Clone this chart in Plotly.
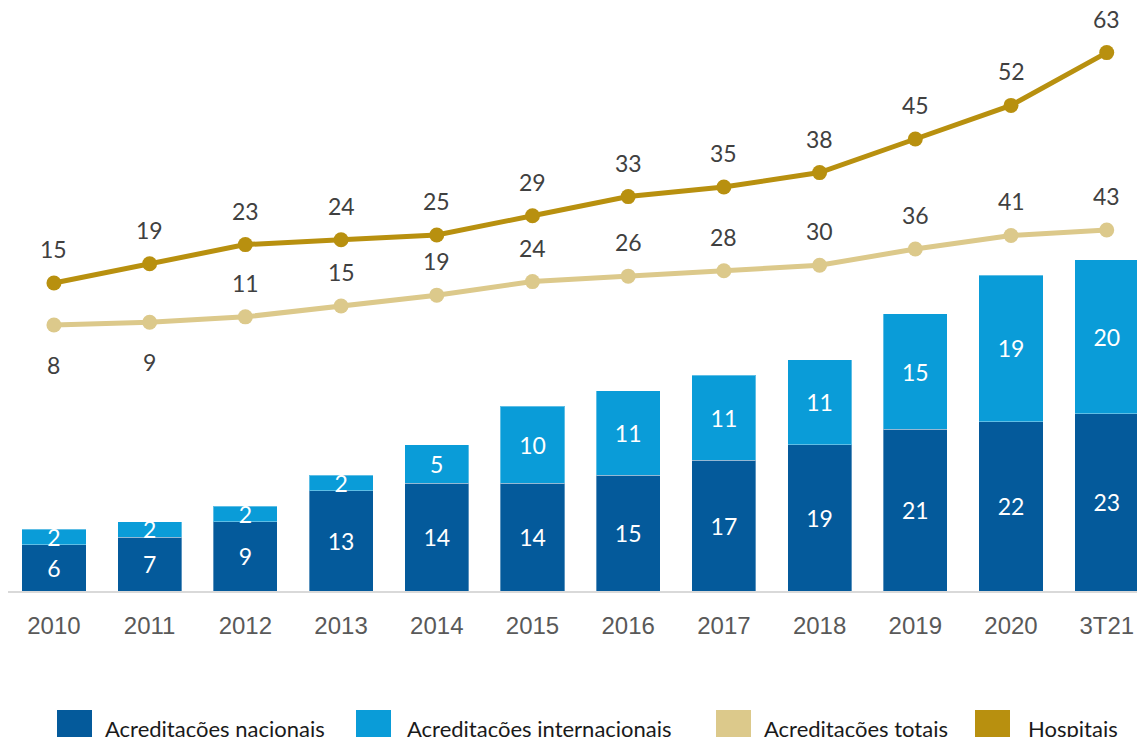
import plotly.graph_objects as go

# dados
categorias = ["2010", "2011", "2012", "2013", "2014", "2015", "2016", "2017", "2018", "2019", "2020", "3T21"]
nacionais = [6, 7, 9, 13, 14, 14, 15, 17, 19, 21, 22, 23]
internacionais = [2, 2, 2, 2, 5, 10, 11, 11, 11, 15, 19, 20]
totais = [8, 9, 11, 15, 19, 24, 26, 28, 30, 36, 41, 43]
hospitais = [15, 19, 23, 24, 25, 29, 33, 35, 38, 45, 52, 63]

series = ["Acreditações nacionais", "Acreditações internacionais", "Acreditações totais", "Hospitais"]
cores = ["#045A9B", "#0A9CD8", "#DCC98B", "#B8900F"]

# the page body has an 8px margin, so the figure is drawn 8px smaller
OFF = 8
W, H = 1145 - OFF, 737 - OFF
MB = 146
PW, PH = W, H - MB

FONT_NUM = "Lato, 'Open Sans', sans-serif"
FONT_TICK = "'Liberation Sans Narrow', 'Arial Narrow', 'Liberation Sans', Arial, sans-serif"


def px_x(x):
    # screen pixel -> paper x
    return (x - OFF) / PW


def px_y(y):
    # screen pixel -> paper y
    return (PH - (y - OFF)) / PH


fig = go.Figure()

for vals, nome, cor in [(nacionais, series[0], cores[0]), (internacionais, series[1], cores[1])]:
    fig.add_trace(go.Bar(
        x=categorias, y=vals, name=nome, marker_color=cor,
        marker_line=dict(color="rgba(255,255,255,0.35)", width=1),
        text=[str(v) for v in vals], textposition="inside", insidetextanchor="middle",
        constraintext="none", textangle=0,
        textfont=dict(family=FONT_NUM, size=23, color="white"),
    ))

fig.add_trace(go.Scatter(
    x=categorias, y=totais, name=series[2], yaxis="y3", mode="lines+markers",
    line=dict(color=cores[2], width=5), marker=dict(size=15, color=cores[2]),
))
fig.add_trace(go.Scatter(
    x=categorias, y=hospitais, name=series[3], yaxis="y2", mode="lines+markers",
    line=dict(color=cores[3], width=5), marker=dict(size=15, color=cores[3]),
))

annotations = []
for i, v in enumerate(hospitais):
    annotations.append(dict(x=i, y=v, xref="x", yref="y2", text=str(v), showarrow=False,
                            yshift=34, font=dict(family=FONT_NUM, size=23, color="#404040")))
for i, v in enumerate(totais):
    shift = -40 if i < 2 else 34
    annotations.append(dict(x=i, y=v, xref="x", yref="y3", text=str(v), showarrow=False,
                            yshift=shift, font=dict(family=FONT_NUM, size=23, color="#404040")))

# legenda desenhada à mão (quadrados grandes como no original)
leg_sq = [57, 356, 716, 975]
leg_tx = [103, 405, 762, 1026]
shapes = []
for nome, cor, xs, xt in zip(series, cores, leg_sq, leg_tx):
    shapes.append(dict(type="rect", xref="paper", yref="paper",
                       x0=px_x(xs), x1=px_x(xs + 35), y0=px_y(710), y1=px_y(760),
                       fillcolor=cor, line=dict(width=0)))
    annotations.append(dict(x=px_x(xt), y=px_y(728), xref="paper", yref="paper", text=nome,
                            xanchor="left", yanchor="middle", showarrow=False,
                            font=dict(family=FONT_NUM, size=22, color="#1A1A1A")))

fig.update_layout(
    width=W, height=H,
    margin=dict(l=0, r=0, t=0, b=MB),
    barmode="stack", bargap=0.33,
    showlegend=False,
    plot_bgcolor="white", paper_bgcolor="white",
    xaxis=dict(type="category", range=[-0.48, 11.40], showgrid=False, zeroline=False,
               showline=True, linecolor="#D9D9D9", linewidth=2,
               ticks="", ticklabelstandoff=12,
               tickfont=dict(family=FONT_TICK, size=24, color="#595959")),
    yaxis=dict(range=[0, 75.71], visible=False),
    yaxis2=dict(range=[-49.17, 72.29], overlaying="y", visible=False),
    yaxis3=dict(range=[-90.0, 124.8], overlaying="y", visible=False),
    shapes=shapes,
    annotations=annotations,
)

fig.write_html("out.html")
